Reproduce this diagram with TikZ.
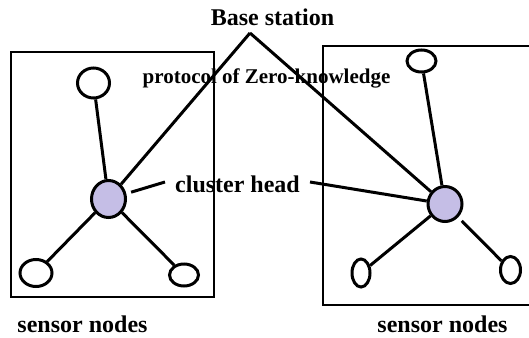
\documentclass[tikz,border=0pt]{standalone}
\usepackage{fontspec}
\setmainfont{Liberation Serif}
\usetikzlibrary{shapes.geometric}
\definecolor{headfill}{HTML}{C5BEE6}

\begin{document}
\begin{tikzpicture}[x=1pt,y=-1pt,
		sensor/.style={ellipse,draw,line width=3pt,fill=white,inner sep=0pt},
		head/.style={ellipse,draw,line width=3pt,fill=headfill,inner sep=0pt},
		link/.style={line width=3pt},
		bigtext/.style={font=\bfseries\fontsize{24}{28}\selectfont,inner sep=0pt,anchor=base},
		smalltext/.style={font=\bfseries\fontsize{21}{25}\selectfont,inner sep=0pt,anchor=base}]
			%%Location
			\clip (0,0) rectangle (529,337);
			%%boxes
			\draw[line width=2pt] (11,52) rectangle (214,297);
			\draw[line width=2pt] (323,46) rectangle (545,305);
			
			%%Label
			\node[bigtext] (base) at (272.5,26) {Base station};
			\node[smalltext] (zkp) at (266.5,83) {protocol of Zero-knowledge};
			\node[bigtext] (chlabel) at (237.5,192) {cluster head};
			\node[bigtext] (lsensors) at (82.5,332) {sensor nodes};
			\node[bigtext] (rsensors) at (442.5,332) {sensor nodes};
			\coordinate (apex) at (250,33);
			
			%%left cluster
			\node[head,minimum width=34pt,minimum height=37pt] (lch) at (108.5,199) {};
			\node[sensor,minimum width=32pt,minimum height=30pt] (lt) at (93.5,83) {};
			\node[sensor,minimum width=32pt,minimum height=27pt] (lbl) at (36,273) {};
			\node[sensor,minimum width=29pt,minimum height=22pt] (lbr) at (184,275) {};
			%%right cluster
			\node[head,minimum width=34pt,minimum height=35pt] (rch) at (445,204) {};
			\node[sensor,minimum width=29pt,minimum height=22pt] (rt) at (421.5,61) {};
			\node[sensor,minimum width=18pt,minimum height=28pt] (rbl) at (361,273) {};
			\node[sensor,minimum width=20pt,minimum height=27pt] (rbr) at (510.5,270) {};
			
			%%links
			\draw[link] (lch)--(lt);
			\draw[link] (lch)--(lbl);
			\draw[link] (lch)--(lbr);
			\draw[link] (rch)--(rt);
			\draw[link] (rch)--(rbl);
			\draw[link,shorten <=5pt] (rch)--(rbr);
			\draw[link] (apex)--(lch);
			\draw[link] (apex)--(rch);
			\draw[link,shorten >=5pt] ([xshift=-10pt,yshift=10pt]chlabel.base west)--(lch);
			\draw[link] ([xshift=10pt,yshift=10pt]chlabel.base east)--(rch);
		    
		\end{tikzpicture}
\end{document}
